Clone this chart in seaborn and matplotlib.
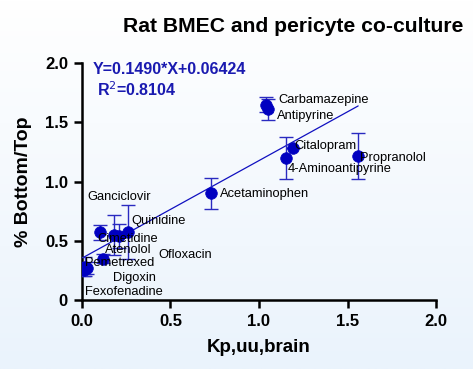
import numpy as np
import pandas as pd
import matplotlib
matplotlib.use("Agg")
import matplotlib.pyplot as plt
import seaborn as sns
from matplotlib.colors import LinearSegmentedColormap

drugs = ["Carbamazepine", "Antipyrine", "Citalopram", "4-Aminoantipyrine", "Propranolol",
         "Acetaminophen", "Ganciclovir", "Cimetidine", "Ofloxacin", "Quinidine",
         "Atenolol", "Pemetrexed", "Digoxin", "Fexofenadine"]
kp = [1.04, 1.05, 1.19, 1.15, 1.56, 0.73, 0.10, 0.18, 0.21, 0.26, 0.12, 0.02, 0.03, 0.01]
ratio = [1.65, 1.61, 1.28, 1.20, 1.215, 0.90, 0.57, 0.55, 0.54, 0.575, 0.35, 0.28, 0.27, 0.25]
err = [0.06, 0.09, 0.0, 0.18, 0.195, 0.13, 0.06, 0.17, 0.10, 0.225, 0.04, 0.08, 0.05, 0.05]
label_x = [1.11, 1.10, 1.20, 1.16, 1.57, 0.78, 0.03, 0.09, 0.43, 0.28, 0.13, 0.02, 0.175, 0.02]
label_y = [1.69, 1.55, 1.30, 1.11, 1.20, 0.895, 0.87, 0.515, 0.38, 0.67, 0.42, 0.31, 0.185, 0.07]
x_ticks = [0.0, 0.5, 1.0, 1.5, 2.0]
y_ticks = [0.0, 0.5, 1.0, 1.5, 2.0]

df = pd.DataFrame({"drug": drugs, "kp": kp, "ratio": ratio, "err": err})

sns.set_style("ticks")
plt.rcParams['font.family'] = ['Liberation Sans', 'DejaVu Sans']
plt.rcParams['text.color'] = 'black'
plt.rcParams['axes.labelcolor'] = 'black'
plt.rcParams['xtick.color'] = 'black'
plt.rcParams['ytick.color'] = 'black'

fig = plt.figure(figsize=(4.73, 3.69), dpi=100)
bg = fig.add_axes([0, 0, 1, 1], zorder=-10)
grad = np.linspace(0, 1, 256).reshape(-1, 1)
cmap = LinearSegmentedColormap.from_list("bg", ["#ffffff", "#eaf3fc"])
bg.imshow(grad, aspect="auto", cmap=cmap, extent=[0, 1, 0, 1])
bg.axis("off")

ax = fig.add_axes([0.173, 0.187, 0.749, 0.642])
ax.patch.set_alpha(0)
blue = "#0000c0"

sns.regplot(data=df, x="kp", y="ratio", scatter=False, ci=None, truncate=True,
            line_kws={"color": "#1010c0", "lw": 0.9}, ax=ax)
ax.errorbar(df["kp"], df["ratio"], yerr=df["err"], fmt="none", ecolor="#2a2ac0",
            elinewidth=1.0, capsize=5, capthick=1.0, zorder=3)
sns.scatterplot(data=df, x="kp", y="ratio", s=70, color=blue, edgecolor=blue,
                linewidth=0.5, ax=ax, zorder=4)

for d, lx, ly in zip(drugs, label_x, label_y):
    ax.text(lx, ly, d, fontsize=9.3, va="center", ha="left", color="black", zorder=5)

ax.set_xlim(0, 2.0)
ax.set_ylim(0, 2.0)
ax.set_xticks(x_ticks)
ax.set_yticks(y_ticks)
ax.set_xticklabels([f"{v:.1f}" for v in x_ticks], fontsize=12, fontweight="bold")
ax.set_yticklabels([f"{v:.1f}" if v > 0 else "0" for v in y_ticks], fontsize=12, fontweight="bold")
ax.tick_params(axis="both", width=1.8, length=6, color="black", labelcolor="black", pad=4)
for s in ["left", "bottom"]:
    ax.spines[s].set_linewidth(1.8)
    ax.spines[s].set_color("black")
sns.despine(ax=ax)
ax.set_xlabel("Kp,uu,brain", fontsize=13.5, fontweight="bold", labelpad=7, color="black")
ax.set_ylabel("% Bottom/Top", fontsize=14, fontweight="bold", labelpad=9, color="black")

ax.text(0.06, 1.91, "Y=0.1490*X+0.06424", fontsize=11.5, fontweight="bold", color="#1a1ab0")
ax.text(0.085, 1.72, "R$^2$=0.8104", fontsize=11.5, fontweight="bold", color="#1a1ab0")

fig.text(0.62, 0.927, "Rat BMEC and pericyte co-culture", fontsize=15.2, fontweight="bold",
         ha="center", va="center", color="black")

fig.savefig("out.png", dpi=100)
